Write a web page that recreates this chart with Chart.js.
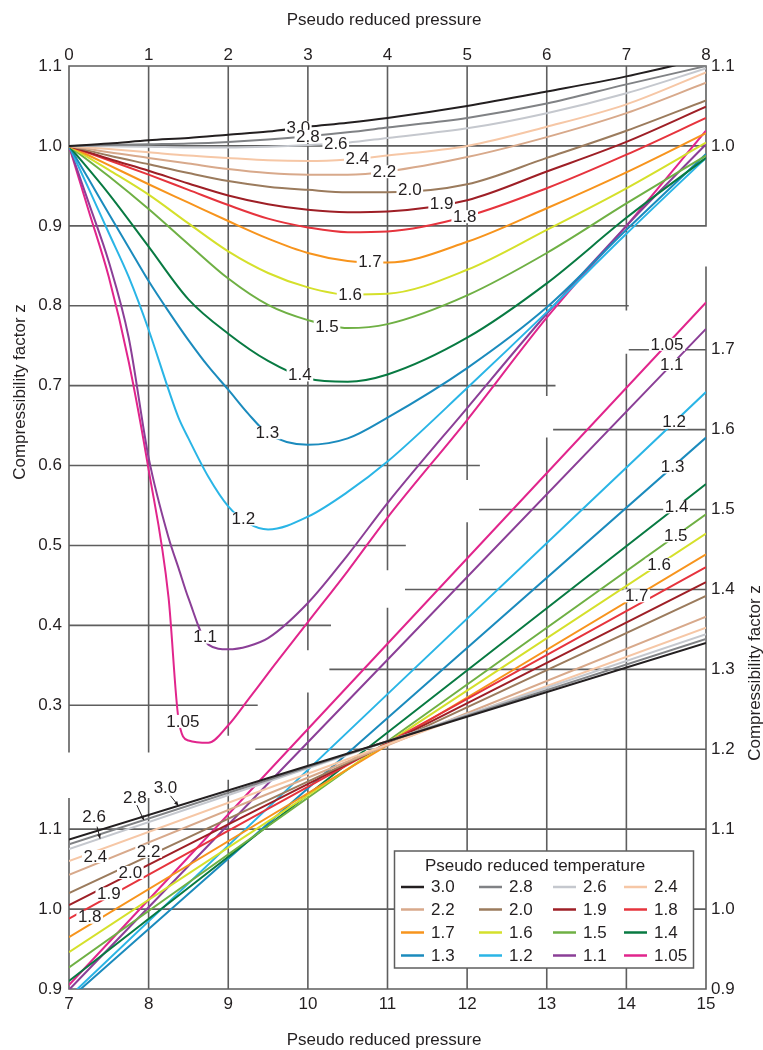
<!DOCTYPE html>
<html>
<head>
<meta charset="utf-8">
<title>Compressibility factor z - pseudo reduced pressure</title>
<script src="https://cdn.jsdelivr.net/npm/chart.js@4.4.1/dist/chart.umd.min.js"></script>
<style>
  html, body { margin: 0; padding: 0; background: #fff; }
  #wrap { width: 763px; height: 1050px; position: relative; }
</style>
</head>
<body>
<div id="wrap"><canvas id="zChart"></canvas></div>
<script>
// ====================================================
// Data
// ====================================================
const tempLabels = ['3.0', '2.8', '2.6', '2.4', '2.2', '2.0', '1.9', '1.8',
                    '1.7', '1.6', '1.5', '1.4', '1.3', '1.2', '1.1', '1.05'];
const curveColors = ['#231f20', '#808285', '#c5c8ce', '#f6c7a6', '#d8a98b', '#9b7b5d',
                     '#9e1f26', '#e6343d', '#f7941d', '#d5e02b', '#6fb044', '#087a42',
                     '#1b8bbd', '#2ab5e6', '#8b3f97', '#e1258c'];

// upper panel: pseudo reduced pressure 0 - 8 (top axis, left z axis)
const prLow = [0, 0.25, 0.5, 0.75, 1, 1.25, 1.375, 1.5, 1.75, 2, 2.25, 2.5, 3, 3.5, 4, 5, 6, 7, 8];
const _ = null; // not read at that pressure
const zLow30  = [1.0, _, 1.003, _, 1.007, _, _, 1.010, _, 1.014, _, 1.018, 1.024, 1.029, 1.035, 1.050, 1.068, 1.087, 1.110];
const zLow28  = [1.0, _, 1.001, _, 1.002, _, _, 1.003, _, 1.005, _, 1.008, 1.012, 1.017, 1.023, 1.035, 1.053, 1.077, 1.100];
const zLow26  = [1.0, _, 0.9995, _, 0.999, _, _, 0.998, _, 0.998, _, 0.999, 1.001, 1.004, 1.010, 1.022, 1.041, 1.066, 1.097];
const zLow24  = [1.0, _, 0.996, _, 0.992, _, _, 0.988, _, 0.985, _, 0.982, 0.981, 0.983, 0.988, 1.000, 1.024, 1.052, 1.092];
const zLow22  = [1.0, _, 0.992, _, 0.985, _, _, 0.978, _, 0.971, _, 0.966, 0.964, 0.964, 0.968, 0.986, 1.011, 1.041, 1.079];
const zLow20  = [1.0, _, 0.988, _, 0.977, _, _, 0.966, _, 0.956, _, 0.949, 0.945, 0.942, 0.942, 0.952, 0.985, 1.019, 1.057];
const zLow19  = [1.0, _, 0.984, _, 0.969, _, _, 0.953, _, 0.938, _, 0.927, 0.920, 0.917, 0.918, 0.932, 0.968, 1.005, 1.049];
const zLow18  = [1.0, _, 0.982, _, 0.964, _, _, 0.945, _, 0.926, _, 0.909, 0.898, 0.892, 0.893, 0.912, 0.947, 0.989, 1.035];
const zLow17  = [1.0, _, 0.976, _, 0.952, _, _, 0.929, _, 0.906, _, 0.884, 0.866, 0.856, 0.854, 0.880, 0.922, 0.967, 1.016];
const zLow16  = [1.0, _, 0.970, _, 0.939, _, _, 0.903, _, 0.868, _, 0.841, 0.823, 0.814, 0.815, 0.845, 0.895, 0.947, 1.004];
const zLow15  = [1.0, _, 0.962, _, 0.921, _, _, 0.877, _, 0.834, _, 0.801, 0.782, 0.772, 0.777, 0.813, 0.866, 0.928, 0.988];
const zLow14  = [1.0, _, 0.940, _, 0.874, _, _, 0.808, _, 0.765, _, 0.731, 0.709, 0.705, 0.714, 0.760, 0.828, 0.910, 0.985];
const zLow13  = [1.0, 0.958, 0.915, 0.873, 0.831, 0.793, _, 0.757, 0.724, 0.695, 0.665, 0.640, 0.626, 0.634, 0.660, 0.722, 0.798, 0.895, 0.990];
const zLow12  = [1.0, 0.946, 0.891, 0.836, 0.770, 0.695, 0.660, 0.634, 0.586, 0.549, 0.528, 0.520, 0.536, 0.567, 0.605, 0.697, 0.792, 0.890, 0.985];
const zLow11  = [1.0, 0.928, 0.855, 0.760, 0.610, 0.510, 0.472, 0.434, 0.376, 0.370, 0.374, 0.384, 0.428, 0.488, 0.553, 0.672, 0.790, 0.900, 1.002];
const zLow105 = [1.0, 0.918, 0.836, 0.730, 0.595, 0.435, 0.283, 0.256, 0.253, 0.275, 0.307, 0.340, 0.404, 0.468, 0.535, 0.657, 0.785, 0.900, 1.019];
const zLowByTemp = [zLow30, zLow28, zLow26, zLow24, zLow22, zLow20, zLow19, zLow18,
                    zLow17, zLow16, zLow15, zLow14, zLow13, zLow12, zLow11, zLow105];

// lower panel: pseudo reduced pressure 7 - 15 (bottom axis, right z axis)
const prHigh = [7, 11, 15];
const zHigh30  = [1.087, 1.210, 1.333];
const zHigh28  = [1.081, 1.210, 1.338];
const zHigh26  = [1.075, 1.210, 1.344];
const zHigh24  = [1.060, 1.206, 1.352];
const zHigh22  = [1.043, 1.205, 1.366];
const zHigh20  = [1.020, 1.206, 1.392];
const zHigh19  = [1.005, 1.207, 1.409];
const zHigh18  = [0.988, 1.208, 1.428];
const zHigh17  = [0.965, 1.205, 1.444];
const zHigh16  = [0.946, 1.208, 1.470];
const zHigh15  = [0.927, 1.210, 1.494];
const zHigh14  = [0.910, 1.221, 1.532];
const zHigh13  = [0.887, 1.239, 1.590];
const zHigh12  = [0.890, 1.269, 1.647];
const zHigh11  = [0.899, 1.312, 1.726];
const zHigh105 = [0.905, 1.332, 1.759];
const zHighByTemp = [zHigh30, zHigh28, zHigh26, zHigh24, zHigh22, zHigh20, zHigh19, zHigh18,
                     zHigh17, zHigh16, zHigh15, zHigh14, zHigh13, zHigh12, zHigh11, zHigh105];

// tick values
const prTicksTop = [0, 1, 2, 3, 4, 5, 6, 7, 8];
const prTicksBottom = [7, 8, 9, 10, 11, 12, 13, 14, 15];
const zTicksUpper = [0.3, 0.4, 0.5, 0.6, 0.7, 0.8, 0.9, 1.0, 1.1];
const zTicksLower = [0.9, 1.0, 1.1, 1.2, 1.3, 1.4, 1.5, 1.6, 1.7];

// ====================================================
// Layout: the two panels share the same pixel grid
// ====================================================
const Z_SHIFT = 0.955;            // right-hand z = left-hand z + shift
const FONT = "'Liberation Sans', Arial, Helvetica, sans-serif";
const TEXT_COLOR = '#231f20';
const GRID_COLOR = '#5e5e5e';

// staircase grid extents
const upperRowEnd   = [2.36, 3.28, 4.22, 5.15, 6.1, 7.02, 8, 8, 8];           // per zTicksUpper
const upperColEnd   = [0.242, 0.242, 0.263, 0.37, 0.47, 0.583, 0.688, 0.795, 0.9]; // per prTicksTop
const lowerRowStart = [7, 7, 7, 9.35, 10.28, 11.23, 12.16, 13.09, 14.04];     // per zTicksLower
const lowerColTop   = [1.138, 1.138, 1.161, 1.27, 1.376, 1.483, 1.589, 1.694, 1.803]; // per prTicksBottom

// where the curve labels sit (pressure along each curve, pixel nudge)
const upperTagX  = [2.88, 3.0, 3.35, 3.62, 3.96, 4.28, 4.68, 4.97, 3.78, 3.53, 3.24, 2.90, 2.49, 2.19, 1.71, 1.43];
const upperTagDy = [0, 0, 0, 0, 0, 0, 0, 0, 0, 0, 3, 0, 0, 0, 0, -7];
const lowerRightTags = [[8, 14.13], [9, 14.41], [10, 14.62], [11, 14.63], [12, 14.58], [13, 14.6], [14, 14.57], [15, 14.51]];
const lowerLeftTags  = [[3, 7.33, 5], [4, 8.0, 9], [5, 7.77, 8], [6, 7.5, 9], [7, 7.26, 10]];
// [temp index, arrow tip pressure, text dx, text dy, arrow start dx, arrow start dy]
const arrowTags = [[0, 8.375, -13, -17, -8, -10], [1, 7.94, -9, -22, -7, -15], [2, 7.39, -6, -21, -3, -12]];

function toPoints(prs, zs) {
    const pts = [];
    prs.forEach((p, i) => { if (zs[i] !== null) pts.push({ x: p, y: zs[i] }); });
    return pts;
}

// position along a read curve, only used to place the labels
function zOnCurve(prs, zs, x) {
    const pts = toPoints(prs, zs);
    for (let i = 1; i < pts.length; i++) {
        if (x <= pts[i].x) {
            const a = pts[i - 1], b = pts[i];
            return a.y + (b.y - a.y) * (x - a.x) / (b.x - a.x);
        }
    }
    return pts[pts.length - 1].y;
}

// ====================================================
// Datasets
// ====================================================
const datasets = [];
tempLabels.forEach((t, i) => {
    datasets.push({
        label: 'Tpr ' + t + ' (Ppr 0-8)',
        data: toPoints(prLow, zLowByTemp[i]),
        xAxisID: 'xTop',
        yAxisID: 'yUp',
        borderColor: curveColors[i],
        borderWidth: 2,
        pointRadius: 0,
        fill: false,
        cubicInterpolationMode: 'monotone'
    });
});
tempLabels.forEach((t, i) => {
    datasets.push({
        label: 'Tpr ' + t + ' (Ppr 7-15)',
        data: toPoints(prHigh, zHighByTemp[i]),
        xAxisID: 'xBottom',
        yAxisID: 'yLow',
        borderColor: curveColors[i],
        borderWidth: 2,
        pointRadius: 0,
        fill: false,
        tension: 0
    });
});

// ====================================================
// Plugins: staircase grid, curve labels, legend, titles
// ====================================================
const staircaseGrid = {
    id: 'staircaseGrid',
    beforeDatasetsDraw(chart) {
        const ctx = chart.ctx;
        const xT = chart.scales.xTop, yU = chart.scales.yUp;
        const xB = chart.scales.xBottom, yL = chart.scales.yLow;
        ctx.save();
        ctx.strokeStyle = GRID_COLOR;
        ctx.lineWidth = 1.6;
        ctx.lineCap = 'square';
        ctx.beginPath();
        zTicksUpper.forEach((v, i) => {
            const y = yU.getPixelForValue(v);
            ctx.moveTo(xT.getPixelForValue(0), y);
            ctx.lineTo(xT.getPixelForValue(upperRowEnd[i]), y);
        });
        prTicksTop.forEach((p, i) => {
            const x = xT.getPixelForValue(p);
            ctx.moveTo(x, yU.getPixelForValue(1.1));
            ctx.lineTo(x, yU.getPixelForValue(upperColEnd[i]));
        });
        zTicksLower.forEach((v, i) => {
            const y = yL.getPixelForValue(v);
            ctx.moveTo(xB.getPixelForValue(lowerRowStart[i]), y);
            ctx.lineTo(xB.getPixelForValue(15), y);
        });
        prTicksBottom.forEach((p, i) => {
            const x = xB.getPixelForValue(p);
            ctx.moveTo(x, yL.getPixelForValue(0.9));
            ctx.lineTo(x, yL.getPixelForValue(lowerColTop[i]));
        });
        ctx.stroke();
        ctx.restore();
    }
};

function drawTag(ctx, text, x, y) {
    const w = ctx.measureText(text).width;
    ctx.fillStyle = '#fff';
    ctx.fillRect(x - w / 2 - 1.5, y - 6.5, w + 3, 13);
    ctx.fillStyle = TEXT_COLOR;
    ctx.fillText(text, x, y + 0.5);
}

const curveLabels = {
    id: 'curveLabels',
    afterDatasetsDraw(chart) {
        const ctx = chart.ctx;
        const xT = chart.scales.xTop, yU = chart.scales.yUp;
        const xB = chart.scales.xBottom, yL = chart.scales.yLow;
        ctx.save();
        ctx.font = '17px ' + FONT;
        ctx.textAlign = 'center';
        ctx.textBaseline = 'middle';

        upperTagX.forEach((p, i) => {
            const z = zOnCurve(prLow, zLowByTemp[i], p);
            drawTag(ctx, tempLabels[i], xT.getPixelForValue(p), yU.getPixelForValue(z) + upperTagDy[i]);
        });
        lowerRightTags.forEach(([i, p]) => {
            const z = zOnCurve(prHigh, zHighByTemp[i], p);
            drawTag(ctx, tempLabels[i], xB.getPixelForValue(p), yL.getPixelForValue(z));
        });
        lowerLeftTags.forEach(([i, p, dy]) => {
            const z = zOnCurve(prHigh, zHighByTemp[i], p);
            drawTag(ctx, tempLabels[i], xB.getPixelForValue(p), yL.getPixelForValue(z) + dy);
        });
        arrowTags.forEach(([i, p, tdx, tdy, adx, ady]) => {
            const tx = xB.getPixelForValue(p);
            const ty = yL.getPixelForValue(zOnCurve(prHigh, zHighByTemp[i], p));
            ctx.fillStyle = TEXT_COLOR;
            ctx.fillText(tempLabels[i], tx + tdx, ty + tdy);
            const sx = tx + adx, sy = ty + ady;
            ctx.strokeStyle = TEXT_COLOR;
            ctx.lineWidth = 1;
            ctx.beginPath();
            ctx.moveTo(sx, sy);
            ctx.lineTo(tx, ty);
            ctx.stroke();
            const ang = Math.atan2(ty - sy, tx - sx);
            ctx.beginPath();
            ctx.moveTo(tx, ty);
            ctx.lineTo(tx - 5 * Math.cos(ang - 0.4), ty - 5 * Math.sin(ang - 0.4));
            ctx.lineTo(tx - 5 * Math.cos(ang + 0.4), ty - 5 * Math.sin(ang + 0.4));
            ctx.closePath();
            ctx.fill();
        });
        ctx.restore();
    }
};

const legendBox = {
    id: 'legendBox',
    afterDraw(chart) {
        const ctx = chart.ctx;
        const left = 394.5, top = 851, w = 299, h = 117;
        const colLine = [401, 479, 553, 624];
        const rowY = [887, 909.5, 932.5, 955.5];
        ctx.save();
        ctx.fillStyle = '#fff';
        ctx.fillRect(left, top, w, h);
        ctx.strokeStyle = GRID_COLOR;
        ctx.lineWidth = 1.5;
        ctx.strokeRect(left, top, w, h);
        ctx.font = '17px ' + FONT;
        ctx.fillStyle = TEXT_COLOR;
        ctx.textAlign = 'center';
        ctx.textBaseline = 'middle';
        ctx.fillText('Pseudo reduced temperature', 535, 866);
        ctx.textAlign = 'left';
        tempLabels.forEach((t, i) => {
            const x = colLine[i % 4], y = rowY[Math.floor(i / 4)];
            ctx.strokeStyle = curveColors[i];
            ctx.lineWidth = 2.5;
            ctx.beginPath();
            ctx.moveTo(x, y);
            ctx.lineTo(x + 23, y);
            ctx.stroke();
            ctx.fillStyle = TEXT_COLOR;
            ctx.fillText(t, x + 30, y + 0.5);
        });

        // axis titles
        ctx.textAlign = 'center';
        ctx.fillText('Pseudo reduced pressure', 384, 20);
        ctx.fillText('Pseudo reduced pressure', 384, 1040);
        ctx.save();
        ctx.translate(20, 392);
        ctx.rotate(-Math.PI / 2);
        ctx.fillText('Compressibility factor z', 0, 0);
        ctx.restore();
        ctx.save();
        ctx.translate(755, 673);
        ctx.rotate(-Math.PI / 2);
        ctx.fillText('Compressibility factor z', 0, 0);
        ctx.restore();
        ctx.restore();
    }
};

// ====================================================
// Axis tick sets (each z axis carries labels of both panels)
// ====================================================
const leftTicks = zTicksUpper.map(v => ({ value: v, txt: v.toFixed(1) }))
    .concat(zTicksLower.filter(v => v <= 1.1 + 1e-9).map(v => ({ value: v - Z_SHIFT, txt: v.toFixed(1) })))
    .sort((a, b) => a.value - b.value);
const rightTicks = zTicksLower.map(v => ({ value: v, txt: v.toFixed(1) }))
    .concat(zTicksUpper.filter(v => v >= 1.0 - 1e-9).map(v => ({ value: v + Z_SHIFT, txt: v.toFixed(1) })))
    .sort((a, b) => a.value - b.value);

const tickFont = { family: FONT, size: 17 };

function xScale(pos, min, max, pad, height) {
    return {
        type: 'linear', axis: 'x', position: pos, min: min, max: max,
        grid: { display: false, drawTicks: false },
        border: { display: false },
        ticks: { stepSize: 1, color: TEXT_COLOR, font: tickFont, padding: pad, maxRotation: 0, autoSkip: false },
        afterFit: s => { s.height = height; }
    };
}

function yScale(pos, min, max, tickSet, pad, width) {
    return {
        type: 'linear', axis: 'y', position: pos, min: min, max: max,
        grid: { display: false, drawTicks: false },
        border: { display: false },
        afterBuildTicks: s => { s.ticks = tickSet.map(t => ({ value: t.value })); },
        ticks: {
            color: TEXT_COLOR, font: tickFont, padding: pad, autoSkip: false,
            callback: (value) => {
                const t = tickSet.find(k => Math.abs(k.value - value) < 1e-6);
                return t ? t.txt : '';
            }
        },
        afterFit: s => { s.width = width; }
    };
}

new Chart(document.getElementById('zChart'), {
    type: 'line',
    data: { datasets: datasets },
    options: {
        responsive: true,
        maintainAspectRatio: false,
        devicePixelRatio: 1,
        animation: false,
        layout: { padding: 0 },
        plugins: { legend: { display: false }, tooltip: { enabled: false } },
        scales: {
            xTop: xScale('top', 0, 8, 0, 66),
            xBottom: xScale('bottom', 7, 15, 5, 61),
            yUp: yScale('left', 0.9 - Z_SHIFT, 1.1, leftTicks, 7, 69),
            yLow: yScale('right', 0.9, 1.1 + Z_SHIFT, rightTicks, 5, 57)
        }
    },
    plugins: [staircaseGrid, curveLabels, legendBox]
});
</script>
</body>
</html>
